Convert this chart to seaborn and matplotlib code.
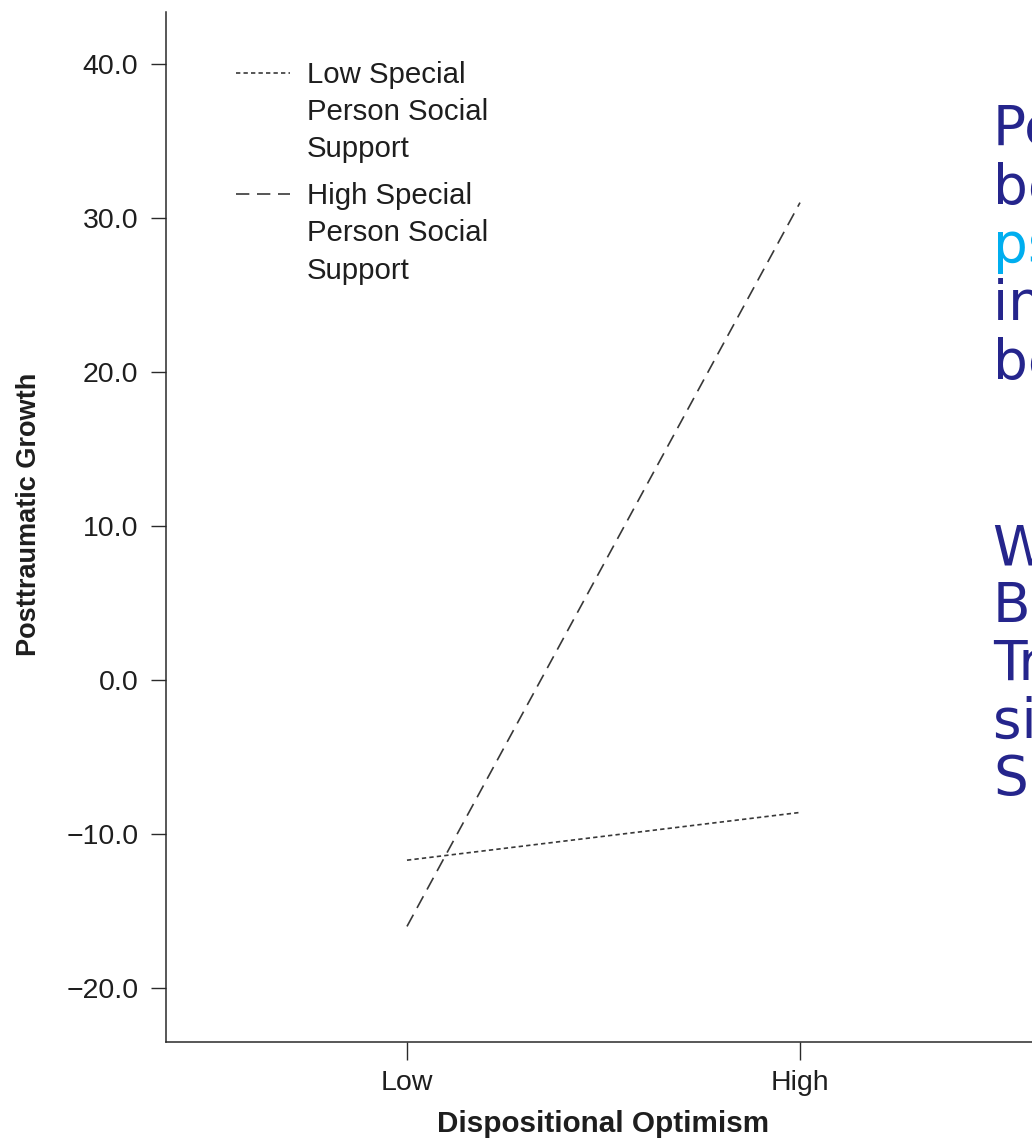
import numpy as np
import pandas as pd
import matplotlib
matplotlib.use("Agg")
import matplotlib.pyplot as plt
import seaborn as sns
from matplotlib.legend_handler import HandlerLine2D
from matplotlib.lines import Line2D

# ---- data -------------------------------------------------------------
optimism_levels = ["Low", "High"]
support_groups = ["Low Special\nPerson Social\nSupport",
                  "High Special\nPerson Social\nSupport"]
growth_low_support = [-11.7, -8.6]
growth_high_support = [-16.0, 31.0]
y_ticks = [-20, -10, 0, 10, 20, 30, 40]
y_tick_labels = ["\u221220.0", "\u221210.0", "0.0", "10.0", "20.0", "30.0", "40.0"]

NAVY = "#25258C"
CYAN = "#00AEEF"
notes_top = [("Perceived benefits of trauma", NAVY),
             ("become stronger when", NAVY),
             ("psychological resources", CYAN),
             ("interact; optimism helps most", NAVY),
             ("because support is there", NAVY)]
notes_bottom = [("With a caring person,", NAVY),
                ("Benefit finding grows after", NAVY),
                ("Trauma for optimists; a", NAVY),
                ("simple slope that is", NAVY),
                ("Significant", NAVY)]

df = pd.DataFrame({
    "position": list(range(len(optimism_levels))) * 2,
    "growth": growth_low_support + growth_high_support,
    "support": [support_groups[0]] * 2 + [support_groups[1]] * 2,
})

# ---- style ------------------------------------------------------------
sns.set_theme(style="ticks")
plt.rcParams["font.family"] = ["Liberation Sans", "DejaVu Sans"]

W, H = 1032, 1142
fig = plt.figure(figsize=(W / 100, H / 100), dpi=100, facecolor="white")
ax_left, ax_right, ax_top, ax_bot = 166, 1040, 12, 1042
ax = fig.add_axes([ax_left / W, 1 - ax_bot / H,
                   (ax_right - ax_left) / W, (ax_bot - ax_top) / H])
ax.set_facecolor("white")

line_color = "#383838"
sns.lineplot(data=df, x="position", y="growth", style="support",
             style_order=support_groups,
             dashes={support_groups[0]: (2.6, 1.9), support_groups[1]: (8.0, 4.6)},
             color=line_color, linewidth=1.2, ax=ax, legend=True)

ax.set_xlim(-0.6132, 1.6107)
ax.set_ylim(-23.506, 43.377)
ax.set_xticks(range(len(optimism_levels)))
ax.set_xticklabels(optimism_levels)
ax.set_yticks(y_ticks)
ax.set_yticklabels(y_tick_labels)

spine_c = "#2a2a2a"
for s in ["top", "right"]:
    ax.spines[s].set_visible(False)
for s in ["left", "bottom"]:
    ax.spines[s].set_color(spine_c)
    ax.spines[s].set_linewidth(1.1)
ax.tick_params(axis="y", length=11, width=1.0, pad=9, labelsize=20.5,
               color=spine_c, labelcolor="#1e1e1e")
ax.tick_params(axis="x", length=13, width=1.0, pad=7, labelsize=20.5,
               color=spine_c, labelcolor="#1e1e1e")

ax.set_xlabel("Dispositional Optimism", fontsize=21.3, fontweight="bold",
              color="#1e1e1e")
ax.xaxis.set_label_coords(0.5, -0.066)
ax.set_ylabel("Posttraumatic Growth", fontsize=19.5, fontweight="bold",
              color="#1e1e1e")
ax.yaxis.set_label_coords(-0.142, 0.512)


# legend: the handle sits next to the first line of each three-line label
class FirstLineHandler(HandlerLine2D):
    def __init__(self, shift, **kw):
        super().__init__(**kw)
        self.shift = shift

    def create_artists(self, legend, orig_handle, xdescent, ydescent,
                       width, height, fontsize, trans):
        arts = super().create_artists(legend, orig_handle, xdescent, ydescent,
                                      width, height, fontsize, trans)
        for a in arts:
            if isinstance(a, Line2D):
                a.set_ydata(np.asarray(a.get_ydata(), dtype=float)
                            + self.shift * fontsize)
        return arts


handles, labels = ax.get_legend_handles_labels()
if ax.get_legend() is not None:
    ax.get_legend().remove()
leg = ax.legend(handles, labels, loc="upper left",
                bbox_to_anchor=(236 / W, 1 - 61 / H),
                bbox_transform=fig.transFigure,
                frameon=False, borderpad=0, borderaxespad=0,
                handlelength=1.85, handletextpad=0.55, labelspacing=0.63,
                fontsize=21.2,
                handler_map={Line2D: FirstLineHandler(1.37)})
for t in leg.get_texts():
    t.set_linespacing(1.42)
    t.set_color("#1e1e1e")

# slide notes, running off the right edge
def put_lines(lines, first_baseline, step):
    for i, (txt, col) in enumerate(lines):
        fig.text(993 / W, 1 - (first_baseline + i * step) / H, txt,
                 color=col, fontsize=39.5, family="DejaVu Sans",
                 ha="left", va="baseline")

put_lines(notes_top, 145, 58.5)
put_lines(notes_bottom, 565, 57.5)

fig.savefig("out.png", dpi=100, facecolor="white")
